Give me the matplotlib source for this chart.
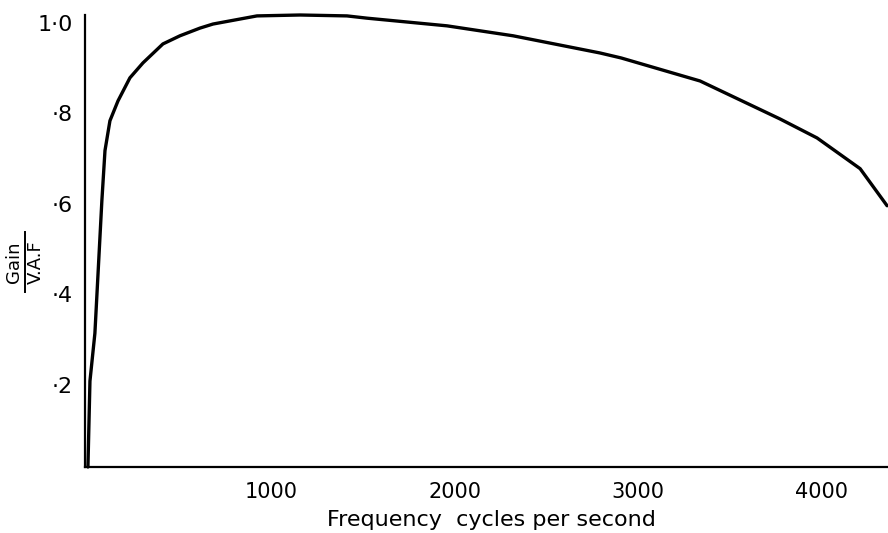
import matplotlib
matplotlib.use("Agg")
import matplotlib.pyplot as plt

# Data
freq = [0, 11, 38, 76, 93, 120, 164, 229, 300, 409, 502, 611, 682, 922, 1157,
        1413, 1522, 1959, 2319, 2793, 2908, 3339, 3775, 3977, 4212, 4359]
gain = [0.0, 0.19, 0.296, 0.589, 0.70, 0.766, 0.81, 0.861, 0.894, 0.936, 0.954,
        0.971, 0.98, 0.998, 1.0, 0.998, 0.993, 0.976, 0.954, 0.916, 0.905, 0.854,
        0.770, 0.728, 0.66, 0.578]
xticks = [1000, 2000, 3000, 4000]
xticklabels = ["1000", "2000", "3000", "4000"]
yticks = [0.2, 0.4, 0.6, 0.8, 1.0]
yticklabels = ["·2", "·4", "·6", "·8", "1·0"]

W, H = 888, 533
fig = plt.figure(figsize=(W / 100, H / 100), dpi=100)
ax = fig.add_axes([85 / W, (H - 467) / H, 1 - 85 / W, (467 - 15) / H])

ax.plot(freq, gain, color="black", lw=2.4, solid_capstyle="round",
        solid_joinstyle="round", clip_on=False)

ax.set_xlim(-16, 4364)
ax.set_ylim(0, 1.0)
for s in ["top", "right"]:
    ax.spines[s].set_visible(False)
for s in ["left", "bottom"]:
    ax.spines[s].set_linewidth(1.6)
    ax.spines[s].set_color("black")

font = ["Liberation Sans Narrow", "DejaVu Sans"]
ax.set_xticks(xticks)
ax.set_xticklabels(xticklabels, fontsize=15, family=font)
ax.set_yticks(yticks)
ax.set_yticklabels(yticklabels, fontsize=16, family=font)
ax.tick_params(axis="x", length=0, pad=11)
ax.tick_params(axis="y", length=0, pad=9)
for lbl in ax.get_yticklabels():
    lbl.set_va("top")

fig.text(491 / W, 1 - 520 / H, "Frequency  cycles per second", fontsize=16,
         family=font, ha="center", va="center")

fig.text(14 / W, 1 - 262 / H, "Gain", rotation=90, fontsize=13, family=font,
         ha="center", va="center")
fig.text(36 / W, 1 - 262 / H, "V.A.F", rotation=90, fontsize=13, family=font,
         ha="center", va="center")
fig.add_artist(plt.Line2D([25 / W, 25 / W], [1 - 292 / H, 1 - 232 / H],
                          color="black", lw=1.4, transform=fig.transFigure))

fig.savefig("out.png", dpi=100)
